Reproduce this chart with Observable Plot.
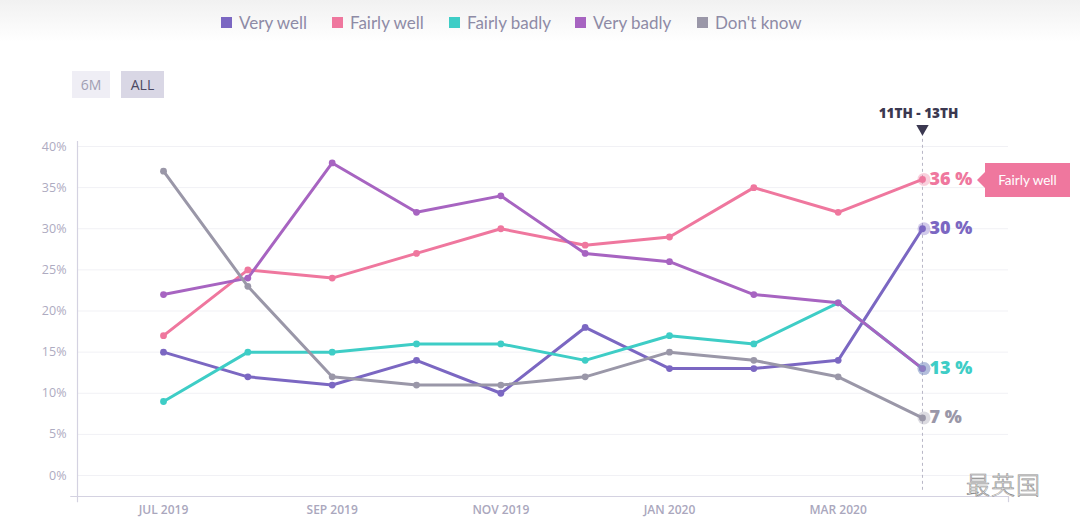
<!DOCTYPE html>
<html>
<head>
<meta charset="utf-8">
<script src="https://cdn.jsdelivr.net/npm/d3@7"></script>
<script src="https://cdn.jsdelivr.net/npm/@observablehq/plot@0.6"></script>
<style>
  html, body { margin: 0; padding: 0; background: #fff; width: 1080px; height: 532px; overflow: hidden; }
  #wrap { position: relative; width: 1080px; height: 532px; font-family: Lato, "Open Sans", sans-serif; }
  #legend { position: relative; height: 46px; background: linear-gradient(#f1f1f1, #ffffff 90%); }
  .item { position: absolute; top: 12px; display: flex; align-items: center; color: #8e8ba6; font-size: 17px; }
  .sw { width: 11px; height: 11px; margin-right: 7px; }
  #controls { position: relative; height: 54px; }
  .btn { position: absolute; top: 25px; height: 27px; line-height: 27px; text-align: center; font-size: 14px; font-family: "Open Sans", sans-serif; }
  #tip { position: absolute; background: #ef779e; color: #fff; font-size: 13.5px; text-align: center; font-family: Lato, sans-serif; }
  #tip:before { content: ""; position: absolute; left: -8px; top: 50%; margin-top: -8px; border-top: 8px solid transparent; border-bottom: 8px solid transparent; border-right: 8px solid #ef779e; }
  #wm { position: absolute; font-family: "Noto Sans CJK SC", sans-serif; font-weight: 300; font-size: 24px; color: #ffffff; -webkit-text-stroke: 0.6px #8a8a8a; letter-spacing: 1px; }
</style>
</head>
<body>
<div id="wrap">
  <div id="legend"></div>
  <div id="controls">
    <div class="btn" style="left:72px;width:38px;background:#efeef5;color:#a19eb3;">6M</div>
    <div class="btn" style="left:121px;width:43px;background:#d9d7e5;color:#4b4862;">ALL</div>
  </div>
  <div id="chart"></div>
</div>
<script>
const months = ["JUL 2019","AUG 2019","SEP 2019","OCT 2019","NOV 2019","DEC 2019","JAN 2020","FEB 2020","MAR 2020","APR 2020"];
const tickLabels = ["JUL 2019","SEP 2019","NOV 2019","JAN 2020","MAR 2020"];
const yTicks = [0, 5, 10, 15, 20, 25, 30, 35, 40];
const seriesNames = ["Very well","Fairly well","Fairly badly","Very badly","Don't know"];
const veryWell    = [15, 12, 11, 14, 10, 18, 13, 13, 14, 30];
const fairlyWell  = [17, 25, 24, 27, 30, 28, 29, 35, 32, 36];
const fairlyBadly = [ 9, 15, 15, 16, 16, 14, 17, 16, 21, 13];
const veryBadly   = [22, 24, 38, 32, 34, 27, 26, 22, 21, 13];
const dontKnow    = [37, 23, 12, 11, 11, 12, 15, 14, 12,  7];
const labeledSeries = ["Fairly well","Very well","Fairly badly","Don't know"];
const periodLabel = "11TH - 13TH";
const watermark = "最英国";

const colors = ["#7b67c2", "#ef779e", "#3ecdc6", "#a764c1", "#9a97a8"];
const values = [veryWell, fairlyWell, fairlyBadly, veryBadly, dontKnow];

// legend
const legendLefts = [221, 332, 449, 575, 697];
const legend = document.getElementById("legend");
seriesNames.forEach((s, k) => {
  const it = document.createElement("div");
  it.className = "item";
  it.style.left = legendLefts[k] + "px";
  it.innerHTML = `<span class="sw" style="background:${colors[k]}"></span><span>${s}</span>`;
  legend.appendChild(it);
});

const rows = [];
seriesNames.forEach((s, k) => values[k].forEach((v, i) => rows.push({series: s, i, value: v})));
const lastI = months.length - 1;
const lastRows = rows.filter(d => d.i === lastI);
const labelRows = lastRows.filter(d => labeledSeries.includes(d.series));
const xTicks = tickLabels.map(l => months.indexOf(l));

const chart = Plot.plot({
  width: 1080,
  height: 432,
  marginLeft: 77,
  marginRight: 72,
  marginTop: 46,
  marginBottom: 36,
  style: {fontFamily: "'Open Sans', sans-serif", background: "transparent", overflow: "visible"},
  x: {domain: [-1.02, 10.02]},
  y: {domain: [-2.55, 40]},
  color: {domain: seriesNames, range: colors},
  marks: [
    Plot.gridY(yTicks, {stroke: "#f1f1f5", strokeOpacity: 1, x1: -1.02, x2: 10.02}),
    Plot.ruleY([-2.55], {x1: -1.1, x2: 10.02, stroke: "#d4d2e1", strokeWidth: 1.2}),
    Plot.ruleX([-1.02], {y1: -3.3, y2: 40.6, stroke: "#d4d2e1", strokeWidth: 1.2}),
    Plot.ruleX([10.02], {y1: -2.55, y2: -3.3, stroke: "#d4d2e1", strokeWidth: 1.2}),
    Plot.axisY(yTicks, {tickSize: 0, tickPadding: 11, tickFormat: d => d + "%", color: "#aeabc1", fontSize: 12.5, label: null}),
    Plot.axisX(xTicks, {tickSize: 0, tickPadding: 9, tickFormat: i => months[i], color: "#aaa7bd", fontSize: 12, fontWeight: 600, label: null}),
    Plot.ruleX([lastI], {y1: 41.6, y2: -1.8, stroke: "#b8b6c6", strokeDasharray: "3,3", strokeWidth: 1}),
    Plot.line(rows, {x: "i", y: "value", z: "series", stroke: "series", strokeWidth: 3, strokeLinejoin: "round"}),
    Plot.dot(rows, {x: "i", y: "value", fill: "series", r: 3.4}),
    Plot.dot(lastRows, {x: "i", y: "value", fill: "series", fillOpacity: 0.35, r: 6.5, dx: 1.5}),
    Plot.text(labelRows, {x: "i", y: "value", text: d => d.value + " %", fill: "series", dx: 7, dy: -0.5, textAnchor: "start", fontSize: 18, fontWeight: 800, fontFamily: "'Open Sans', sans-serif"}),
    Plot.dot([lastI], {x: d => d, frameAnchor: "top", dy: -18, symbol: "triangle", rotate: 180, r: 4.6, fill: "#3b3850"}),
    Plot.text([periodLabel], {x: () => lastI, frameAnchor: "top", dy: -38, dx: -4, text: d => d, fontSize: 13.5, fontWeight: 800, fill: "#3b3850", fontFamily: "'Open Sans', sans-serif"})
  ]
});
document.getElementById("chart").appendChild(chart);

// tooltip for the highlighted series
const xs = chart.scale("x"), ys = chart.scale("y");
const tipRow = lastRows.find(d => d.series === "Fairly well");
const px = xs.apply(tipRow.i), py = ys.apply(tipRow.value) + 100;
const tip = document.createElement("div");
tip.id = "tip";
tip.textContent = tipRow.series;
tip.style.left = (px + 63) + "px";
tip.style.top = (py - 16) + "px";
tip.style.width = "85px";
tip.style.height = "34px";
tip.style.lineHeight = "34px";
document.getElementById("wrap").appendChild(tip);

const wm = document.createElement("div");
wm.id = "wm";
wm.textContent = watermark;
wm.style.left = "966px";
wm.style.top = "466px";
document.getElementById("wrap").appendChild(wm);
</script>
</body>
</html>
